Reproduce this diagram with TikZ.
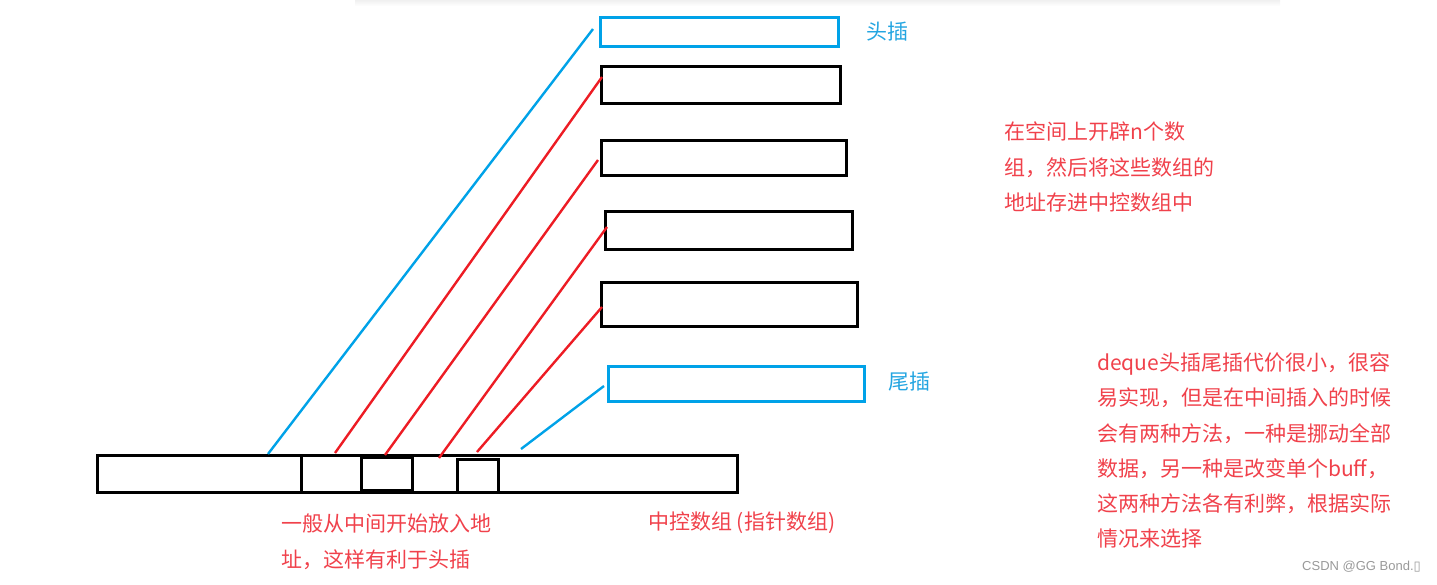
\documentclass[tikz,border=0pt]{standalone}
\usepackage{fontspec}
\setmainfont{Noto Sans CJK SC}
\newfontfamily\markfont{Liberation Sans}
\newfontfamily\glyphfont{DejaVu Sans}
\definecolor{paintblue}{RGB}{0,162,232}
\definecolor{paintred}{RGB}{237,28,36}
\definecolor{notered}{RGB}{240,65,75}
\definecolor{noteblue}{RGB}{35,165,225}

\begin{document}
\begin{tikzpicture}[x=1pt,y=-1pt,
  cell/.style={draw=black,line width=3pt,inner sep=0pt,outer sep=0pt},
  endcell/.style={cell,draw=paintblue},
  redwire/.style={paintred,line width=2.4pt},
  bluewire/.style={paintblue,line width=2.4pt},
  note/.style={font={\fontsize{21}{35.3}\selectfont},text=notered,align=left,anchor=north west,inner sep=0pt},
  endnote/.style={note,text=noteblue}]
  \useasboundingbox (0,0) rectangle (1437,585);
  % faint shadow of the page header
  \shade[top color=black!6,bottom color=white] (355,0) rectangle (1280,6);
  % buffers, head insert on top, tail insert at the bottom
  \node[endcell,minimum width=238pt,minimum height=29pt] (headbuf) at (719,32.5) {};
  \node[cell,minimum width=239pt,minimum height=37pt] (buf1) at (720.5,85.5) {};
  \node[cell,minimum width=245pt,minimum height=35pt] (buf2) at (723.5,158.5) {};
  \node[cell,minimum width=247pt,minimum height=38pt] (buf3) at (728.5,231) {};
  \node[cell,minimum width=256pt,minimum height=43pt] (buf4) at (729,304.5) {};
  \node[endcell,minimum width=256pt,minimum height=35pt] (tailbuf) at (736,383.5) {};
  % the map (array of pointers)
  \node[cell,minimum width=640pt,minimum height=36.5pt] (map) at (417,473.75) {};
  \draw[line width=3pt] (301,455.5) -- (301,492);
  \node[cell,minimum width=51pt,minimum height=32.5pt] (slotA) at (386.5,473.75) {};
  \node[cell,minimum width=41pt,minimum height=33pt] (slotB) at (477.5,475.5) {};
  % wire ends
  \coordinate (m1) at (268,454);
  \coordinate (m2) at (335,453);
  \coordinate (m3) at (385,455);
  \coordinate (m4) at (439,458);
  \coordinate (m5) at (477,452);
  \coordinate (m6) at (521,449);
  \coordinate (b1) at (593,29);
  \coordinate (b2) at (602,77);
  \coordinate (b3) at (598,160);
  \coordinate (b4) at (607,227);
  \coordinate (b5) at (602,307);
  \coordinate (b6) at (604,386);
  \draw[bluewire] (m1) -- (b1);
  \draw[redwire] (m2) -- (b2);
  \draw[redwire] (m3) -- (b3);
  \draw[redwire] (m4) -- (b4);
  \draw[redwire] (m5) -- (b5);
  \draw[bluewire] (m6) -- (b6);
  % labels
  \node[endnote] (headlabel) at (866,21.5) {头插};
  \node[endnote] (taillabel) at (888,371.5) {尾插};
  \node[note] (spacenote) at (1004,122) {在空间上开辟n个数\\组，然后将这些数组的\\地址存进中控数组中};
  \node[note] (dequenote) at (1097,352.5) {deque头插尾插代价很小，很容\\易实现，但是在中间插入的时候\\会有两种方法，一种是挪动全部\\数据，另一种是改变单个buff，\\这两种方法各有利弊，根据实际\\情况来选择};
  \node[note] (midnote) at (281,514) {一般从中间开始放入地\\址，这样有利于头插};
  \node[note] (maplabel) at (648,512) {中控数组 (指针数组)};
  \node[font={\markfont\fontsize{13}{15}\selectfont},text=black!40,anchor=west,inner sep=0pt] (watermark) at (1302,567) {CSDN @GG Bond.{\glyphfont ▯}};
\end{tikzpicture}
\end{document}
